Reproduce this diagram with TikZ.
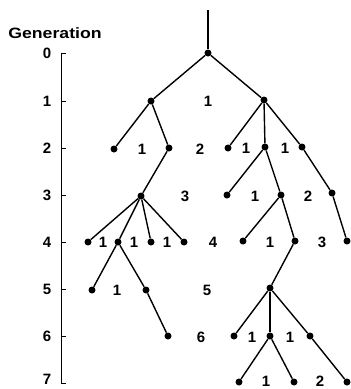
\documentclass[tikz,border=0pt]{standalone}
\usepackage{fontspec}
\setmainfont{Liberation Sans}
\begin{document}
\begin{tikzpicture}[
		x=1pt, y=-1pt,
		vertex/.style={
			circle,
			fill=black,
			inner sep=0pt,
			minimum size=7pt
		},
		edge/.style={
			draw=black,
			line width=1.4pt
		},
		count/.style={
			font=\fontsize{15}{15}\selectfont\bfseries,
			inner sep=0pt
		}
	]

	\useasboundingbox (0,0) rectangle (351,389);

	% generation axis
	\node[count] (title) at (55,33) {\scalebox{1.18}[1]{Generation}};
	\draw[edge, line width=1pt] (66,53) -- (61,53) -- (61,383) -- (66,383);
	\foreach \g/\y in {0/53, 1/101, 2/148, 3/195, 4/242, 5/289, 6/336, 7/383} {
		\draw[edge, line width=1pt] (61,\y) -- (66,\y);
	}
	\foreach \g/\y in {0/53, 1/101, 2/148, 3/195, 4/242, 5/289, 6/336, 7/379} {
		\node[count] (gen\g) at (47,\y) {\g};
	}

	% tree
	\coordinate (top) at (208,10);
	\node[vertex] (n0) at (208,53) {};

	\node[vertex] (n1a) at (151,101) {};
	\node[vertex] (n1b) at (264,100) {};

	\node[vertex] (n2a) at (114,149) {};
	\node[vertex] (n2b) at (169,148) {};
	\node[vertex] (n2c) at (228,148) {};
	\node[vertex] (n2d) at (265,147) {};
	\node[vertex] (n2e) at (302,147) {};

	\node[vertex] (n3a) at (141,196) {};
	\node[vertex] (n3b) at (227,195) {};
	\node[vertex] (n3c) at (281,195) {};
	\node[vertex] (n3d) at (332,193) {};

	\node[vertex] (n4a) at (88,242) {};
	\node[vertex] (n4b) at (118,242) {};
	\node[vertex] (n4c) at (151,242) {};
	\node[vertex] (n4d) at (184,242) {};
	\node[vertex] (n4e) at (243,241) {};
	\node[vertex] (n4f) at (295,241) {};
	\node[vertex] (n4g) at (347,241) {};

	\node[vertex] (n5a) at (92,290) {};
	\node[vertex] (n5b) at (146,290) {};
	\node[vertex] (n5c) at (270,288) {};

	\node[vertex] (n6a) at (168,336) {};
	\node[vertex] (n6b) at (234,336) {};
	\node[vertex] (n6c) at (270,336) {};
	\node[vertex] (n6d) at (310,336) {};

	\node[vertex] (n7a) at (239,382) {};
	\node[vertex] (n7b) at (294,382) {};
	\node[vertex] (n7c) at (347,382) {};

	\draw[edge] (top) -- (n0);
	\draw[edge] (n0) -- (n1a);
	\draw[edge] (n0) -- (n1b);
	\draw[edge] (n1a) -- (n2a);
	\draw[edge] (n1a) -- (n2b);
	\draw[edge] (n1b) -- (n2c);
	\draw[edge] (n1b) -- (n2d);
	\draw[edge] (n1b) -- (n2e);
	\draw[edge] (n2b) -- (n3a);
	\draw[edge] (n2d) -- (n3b);
	\draw[edge] (n2d) -- (n3c);
	\draw[edge] (n2e) -- (n3d);
	\draw[edge] (n3a) -- (n4a);
	\draw[edge] (n3a) -- (n4b);
	\draw[edge] (n3a) -- (n4c);
	\draw[edge] (n3a) -- (n4d);
	\draw[edge] (n3c) -- (n4e);
	\draw[edge] (n3c) -- (n4f);
	\draw[edge] (n3d) -- (n4g);
	\draw[edge] (n4b) -- (n5a);
	\draw[edge] (n4b) -- (n5b);
	\draw[edge] (n4f) -- (n5c);
	\draw[edge] (n5b) -- (n6a);
	\draw[edge] (n5c) -- (n6b);
	\draw[edge] (n5c) -- (n6c);
	\draw[edge] (n5c) -- (n6d);
	\draw[edge] (n6c) -- (n7a);
	\draw[edge] (n6c) -- (n7b);
	\draw[edge] (n6d) -- (n7c);

	% counts per generation
	\node[count] (c1) at (208,101) {1};
	\node[count] (c2a) at (142,149) {1};
	\node[count] (c2b) at (200,149) {2};
	\node[count] (c2c) at (246,148) {1};
	\node[count] (c2d) at (285,148) {1};
	\node[count] (c3a) at (185,196) {3};
	\node[count] (c3b) at (255,196) {1};
	\node[count] (c3c) at (308,196) {2};
	\node[count] (c4a) at (103,242) {1};
	\node[count] (c4b) at (134,242) {1};
	\node[count] (c4c) at (167,242) {1};
	\node[count] (c4d) at (213,242) {4};
	\node[count] (c4e) at (270,242) {1};
	\node[count] (c4f) at (322,242) {3};
	\node[count] (c5a) at (117,290) {1};
	\node[count] (c5b) at (207,290) {5};
	\node[count] (c6a) at (201,337) {6};
	\node[count] (c6b) at (252,337) {1};
	\node[count] (c6c) at (290,337) {1};
	\node[count] (c7a) at (266,381) {1};
	\node[count] (c7b) at (320,381) {2};

\end{tikzpicture}
\end{document}
